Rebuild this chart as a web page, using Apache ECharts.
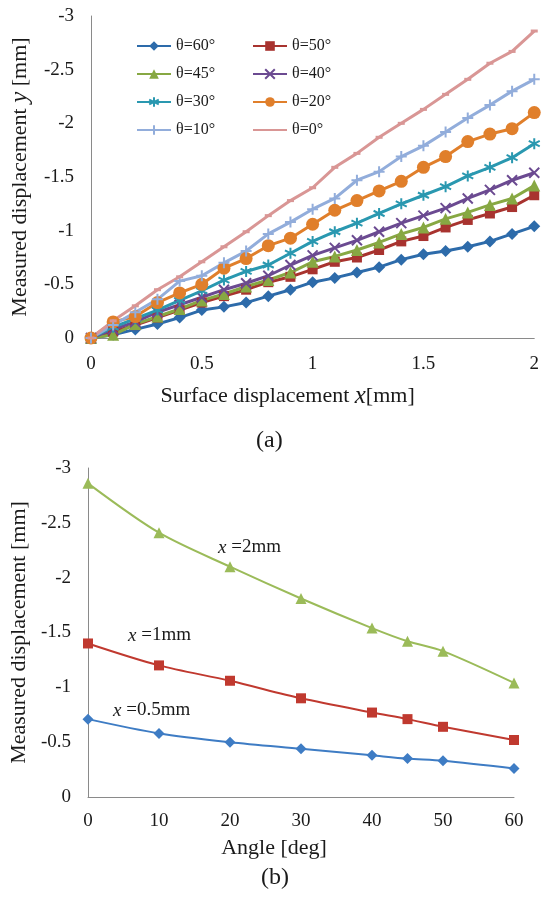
<!DOCTYPE html>
<html>
<head>
<meta charset="utf-8">
<script src="https://cdn.jsdelivr.net/npm/echarts@6/dist/echarts.min.js"></script>
<style>
html, body { margin: 0; padding: 0; background: #fff; }
#chart { width: 542px; height: 898px; }
</style>
</head>
<body>
<div id="chart"></div>
<script>
// (a) measured displacement y vs surface displacement x, one curve per tilt angle
const surfaceX = [0, 0.1, 0.2, 0.3, 0.4, 0.5, 0.6, 0.7, 0.8, 0.9, 1.0,
                  1.1, 1.2, 1.3, 1.4, 1.5, 1.6, 1.7, 1.8, 1.9, 2.0];
const theta60 = [0, -0.03, -0.08, -0.13, -0.19, -0.26, -0.29, -0.33, -0.39, -0.45, -0.52,
                 -0.56, -0.61, -0.66, -0.73, -0.78, -0.81, -0.85, -0.90, -0.97, -1.04];
const theta50 = [0, -0.06, -0.12, -0.19, -0.26, -0.33, -0.39, -0.45, -0.52, -0.57, -0.64,
                 -0.71, -0.75, -0.82, -0.90, -0.95, -1.03, -1.10, -1.16, -1.22, -1.33];
const theta45 = [0, -0.03, -0.13, -0.20, -0.27, -0.35, -0.41, -0.48, -0.54, -0.61, -0.71,
                 -0.76, -0.82, -0.89, -0.97, -1.03, -1.11, -1.17, -1.24, -1.30, -1.42];
const theta40 = [0, -0.08, -0.15, -0.24, -0.31, -0.38, -0.45, -0.51, -0.58, -0.68, -0.77,
                 -0.84, -0.91, -0.99, -1.07, -1.14, -1.21, -1.30, -1.38, -1.47, -1.54];
const theta30 = [0, -0.10, -0.18, -0.26, -0.35, -0.44, -0.54, -0.62, -0.68, -0.79, -0.90,
                 -0.99, -1.07, -1.16, -1.25, -1.33, -1.41, -1.51, -1.59, -1.68, -1.81];
const theta20 = [0, -0.15, -0.20, -0.33, -0.42, -0.50, -0.65, -0.74, -0.86, -0.93, -1.06,
                 -1.19, -1.28, -1.37, -1.46, -1.59, -1.69, -1.83, -1.90, -1.95, -2.10];
const theta10 = [0, -0.12, -0.24, -0.36, -0.53, -0.58, -0.70, -0.81, -0.97, -1.08, -1.20,
                 -1.30, -1.47, -1.55, -1.69, -1.79, -1.92, -2.05, -2.17, -2.30, -2.41];
const theta0  = [0, -0.16, -0.30, -0.45, -0.57, -0.71, -0.85, -0.99, -1.14, -1.28, -1.40,
                 -1.59, -1.72, -1.87, -2.00, -2.13, -2.27, -2.41, -2.56, -2.67, -2.86];

// (b) measured displacement vs angle for three surface displacements
const angles = [0, 10, 20, 30, 40, 45, 50, 60];
const atX05 = [-0.71, -0.58, -0.50, -0.44, -0.38, -0.35, -0.33, -0.26];
const atX1  = [-1.40, -1.20, -1.06, -0.90, -0.77, -0.71, -0.64, -0.52];
const atX2  = [-2.86, -2.41, -2.10, -1.81, -1.54, -1.42, -1.33, -1.04];

const yTicks = { min: -3, max: 0, interval: 0.5 };

const SERIF = '"Liberation Serif", "Times New Roman", serif';
const AXIS_GREY = '#8a8a8a';
const TEXT = '#1a1a1a';

const pairs = (xs, ys) => xs.map((x, i) => [x, ys[i]]);

const starPath = 'path://M5,0L5,10M0.7,2.5L9.3,7.5M9.3,2.5L0.7,7.5';
const crossPath = 'path://M0,0L10,10M10,0L0,10';
const plusPath = 'path://M5,0L5,10M0,5L10,5';

const groupA = [
  { name: 'θ=60°', data: theta60, color: '#2D6BAA', symbol: 'diamond', size: 12 },
  { name: 'θ=50°', data: theta50, color: '#A8332F', symbol: 'rect', size: 10 },
  { name: 'θ=45°', data: theta45, color: '#87A843', symbol: 'triangle', size: 12 },
  { name: 'θ=40°', data: theta40, color: '#6B4A91', symbol: crossPath, size: 10, stroke: true },
  { name: 'θ=30°', data: theta30, color: '#2A98B0', symbol: starPath, size: 11, stroke: true },
  { name: 'θ=20°', data: theta20, color: '#E07F2B', symbol: 'circle', size: 13 },
  { name: 'θ=10°', data: theta10, color: '#92ADDB', symbol: plusPath, size: 11, stroke: true },
  { name: 'θ=0°',  data: theta0,  color: '#D99695', symbol: 'rect', size: [7, 3] }
];

const seriesA = groupA.map(s => ({
  name: s.name,
  type: 'line',
  xAxisIndex: 0,
  yAxisIndex: 0,
  data: pairs(surfaceX, s.data),
  symbol: s.symbol,
  symbolSize: s.size,
  showAllSymbol: true,
  clip: false,
  lineStyle: { color: s.color, width: 3 },
  itemStyle: s.stroke
    ? { color: s.color, borderColor: s.color, borderWidth: 2 }
    : { color: s.color, borderWidth: 0 },
  emphasis: { disabled: true }
}));

const groupB = [
  { name: 'x=0.5mm', data: atX05, color: '#3E7CC4', symbol: 'diamond', size: 11 },
  { name: 'x=1mm',   data: atX1,  color: '#C0392F', symbol: 'rect', size: 10 },
  { name: 'x=2mm',   data: atX2,  color: '#9BBB59', symbol: 'triangle', size: 11 }
];

const seriesB = groupB.map(s => ({
  name: s.name,
  type: 'line',
  xAxisIndex: 1,
  yAxisIndex: 1,
  data: pairs(angles, s.data),
  symbol: s.symbol,
  symbolSize: s.size,
  smooth: 0.3,
  clip: false,
  lineStyle: { color: s.color, width: 2 },
  itemStyle: { color: s.color },
  emphasis: { disabled: true }
}));

const tickLabel = { color: TEXT, fontFamily: SERIF, fontSize: 19 };
const nameStyle = {
  color: TEXT, fontFamily: SERIF, fontSize: 22,
  rich: { i: { color: TEXT, fontFamily: SERIF, fontSize: 25, fontStyle: 'italic' } }
};

function valueAxis(extra) {
  return Object.assign({
    type: 'value',
    axisLine: { show: true, onZero: false, lineStyle: { color: AXIS_GREY, width: 1 } },
    axisTick: { show: false },
    splitLine: { show: false },
    axisLabel: Object.assign({ margin: 17 }, tickLabel),
    nameLocation: 'middle',
    nameTextStyle: nameStyle
  }, extra);
}

const legendBase = {
  orient: 'vertical',
  top: 38,
  itemWidth: 34,
  itemHeight: 12,
  itemGap: 12,
  padding: 0,
  selectedMode: false,
  textStyle: { color: TEXT, fontFamily: SERIF, fontSize: 16 }
};

const chart = echarts.init(document.getElementById('chart'), null, { renderer: 'canvas' });

chart.setOption({
  animation: false,
  backgroundColor: '#fff',
  grid: [
    { left: 89, top: 16, width: 448, height: 322 },
    { left: 76, top: 468, width: 438, height: 329 }
  ],
  xAxis: [
    valueAxis({
      gridIndex: 0, min: 0, max: 2, interval: 0.5,
      name: 'Surface displacement {i|x}[mm]', nameGap: 46,
      nameTextStyle: Object.assign({}, nameStyle, { padding: [0, 50, 0, 0] })
    }),
    valueAxis({
      gridIndex: 1, min: 0, max: 60, interval: 10,
      axisLabel: Object.assign({ margin: 15 }, tickLabel),
      name: 'Angle [deg]', nameGap: 40,
      nameTextStyle: Object.assign({}, nameStyle, { padding: [0, 54, 0, 0] })
    })
  ],
  yAxis: [
    valueAxis(Object.assign({
      gridIndex: 0, inverse: true,
      name: 'Measured displacement {i|y} [mm]', nameGap: 56
    }, yTicks)),
    valueAxis(Object.assign({
      gridIndex: 1, inverse: true,
      name: 'Measured displacement [mm]', nameGap: 47
    }, yTicks))
  ],
  legend: [
    Object.assign({ left: 136, data: ['θ=60°', 'θ=45°', 'θ=30°', 'θ=10°'] }, legendBase),
    Object.assign({ left: 252, data: ['θ=50°', 'θ=40°', 'θ=20°',
      { name: 'θ=0°', itemStyle: { opacity: 0 } }] }, legendBase)
  ],
  graphic: [
    { type: 'text', left: 256, top: 429,
      style: { text: '(a)', font: '24px ' + SERIF, fill: TEXT } },
    { type: 'text', left: 261, top: 866,
      style: { text: '(b)', font: '24px ' + SERIF, fill: TEXT } },
    { type: 'text', left: 218, top: 538,
      style: { text: '{i|x} =2mm', font: '19px ' + SERIF, fill: TEXT,
               rich: { i: { font: 'italic 19px ' + SERIF, fill: TEXT } } } },
    { type: 'text', left: 128, top: 626,
      style: { text: '{i|x} =1mm', font: '19px ' + SERIF, fill: TEXT,
               rich: { i: { font: 'italic 19px ' + SERIF, fill: TEXT } } } },
    { type: 'text', left: 113, top: 701,
      style: { text: '{i|x} =0.5mm', font: '19px ' + SERIF, fill: TEXT,
               rich: { i: { font: 'italic 19px ' + SERIF, fill: TEXT } } } }
  ],
  series: seriesA.concat(seriesB)
});
</script>
</body>
</html>
